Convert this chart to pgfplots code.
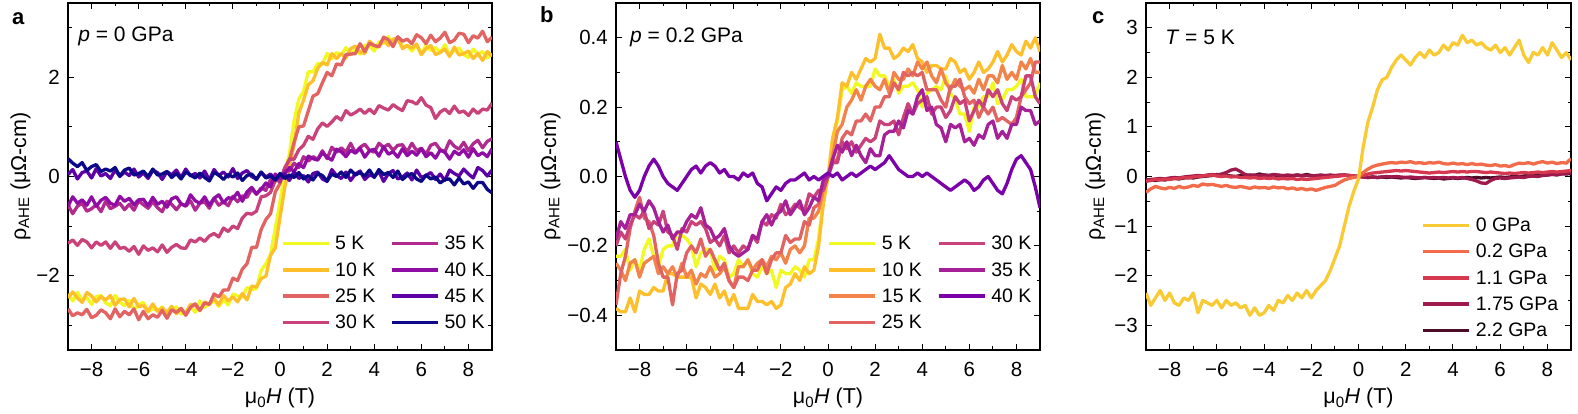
\documentclass[border=0pt]{standalone}
\usepackage{fontspec}
\setmainfont{Liberation Sans}
\usepackage{pgfplots}
\usepackage{pgfplotstable}
\pgfplotsset{compat=1.18}

% plasma-like colours, panels a and b
\definecolor{k5}{HTML}{F0F921}
\definecolor{k10}{HTML}{FDBF2C}
\definecolor{k15}{HTML}{F2844B}
\definecolor{k25}{HTML}{E16462}
\definecolor{k30}{HTML}{C9437A}
\definecolor{k35}{HTML}{B12A90}
\definecolor{k35b}{HTML}{A62098}
\definecolor{k40}{HTML}{8F0DA4}
\definecolor{k40b}{HTML}{7A02A8}
\definecolor{k45}{HTML}{5D01A6}
\definecolor{k50}{HTML}{0D0887}
% panel c
\definecolor{g0}{HTML}{F8CB35}
\definecolor{g02}{HTML}{F26B4A}
\definecolor{g11}{HTML}{D6394F}
\definecolor{g175}{HTML}{9E1A4C}
\definecolor{g22}{HTML}{4A0C27}

\newcommand\legfont{\fontsize{19.5}{22}\selectfont}
\newcommand\labfont{\fontsize{21.5}{24}\selectfont}

% p = 0 GPa, temperature series
\pgfplotstableread{
H a5 a10 a25 a30 a35 a40 a45 a50
-9.0 -2.37 -2.45 -2.67 -1.35 -0.57 -0.60 0.04 0.36
-8.8 -2.51 -2.33 -2.81 -1.28 -0.75 -0.41 0.14 0.27
-8.6 -2.34 -2.45 -2.75 -1.39 -0.60 -0.54 -0.05 0.20
-8.4 -2.49 -2.54 -2.79 -1.27 -0.54 -0.47 0.08 0.28
-8.2 -2.44 -2.34 -2.68 -1.32 -0.70 -0.58 0.11 0.12
-8.0 -2.58 -2.41 -2.85 -1.44 -0.65 -0.41 -0.03 0.20
-7.8 -2.42 -2.53 -2.80 -1.32 -0.57 -0.60 0.16 0.24
-7.6 -2.40 -2.42 -2.69 -1.39 -0.71 -0.48 0.01 0.10
-7.4 -2.55 -2.49 -2.75 -1.32 -0.50 -0.42 0.06 0.15
-7.2 -2.61 -2.40 -2.87 -1.45 -0.65 -0.54 -0.04 0.11
-7.0 -2.40 -2.60 -2.67 -1.32 -0.60 -0.58 0.13 0.18
-6.8 -2.53 -2.48 -2.83 -1.45 -0.54 -0.40 0.00 0.01
-6.6 -2.61 -2.47 -2.72 -1.43 -0.67 -0.50 0.09 0.13
-6.4 -2.50 -2.63 -2.79 -1.51 -0.56 -0.44 0.02 0.17
-6.2 -2.69 -2.46 -2.67 -1.41 -0.68 -0.57 0.15 0.03
-6.0 -2.58 -2.63 -2.89 -1.57 -0.49 -0.47 -0.01 0.06
-5.8 -2.54 -2.60 -2.72 -1.40 -0.57 -0.46 0.07 0.11
-5.6 -2.73 -2.72 -2.87 -1.49 -0.64 -0.59 -0.04 0.00
-5.4 -2.66 -2.57 -2.79 -1.44 -0.51 -0.42 0.12 0.15
-5.2 -2.71 -2.72 -2.84 -1.52 -0.63 -0.56 0.08 0.03
-5.0 -2.63 -2.65 -2.70 -1.38 -0.71 -0.50 -0.06 0.05
-4.8 -2.85 -2.74 -2.86 -1.53 -0.50 -0.62 0.10 0.10
-4.6 -2.70 -2.62 -2.69 -1.43 -0.56 -0.45 0.03 -0.02
-4.4 -2.63 -2.77 -2.74 -1.37 -0.67 -0.41 0.13 0.06
-4.2 -2.78 -2.67 -2.66 -1.44 -0.55 -0.55 -0.02 -0.05
-4.0 -2.72 -2.76 -2.80 -1.45 -0.60 -0.59 0.15 0.09
-3.8 -2.62 -2.58 -2.64 -1.28 -0.49 -0.37 0.01 0.03
-3.6 -2.74 -2.60 -2.57 -1.32 -0.68 -0.49 0.06 -0.03
-3.4 -2.51 -2.71 -2.70 -1.24 -0.54 -0.54 -0.03 0.07
-3.2 -2.64 -2.53 -2.55 -1.31 -0.51 -0.41 0.11 -0.02
-3.0 -2.58 -2.58 -2.58 -1.20 -0.64 -0.58 -0.07 -0.09
-2.8 -2.50 -2.46 -2.37 -1.15 -0.44 -0.44 0.14 0.08
-2.6 -2.62 -2.59 -2.43 -1.22 -0.58 -0.37 0.02 0.03
-2.4 -2.49 -2.40 -2.29 -1.04 -0.51 -0.53 0.09 -0.06
-2.2 -2.59 -2.51 -2.29 -1.11 -0.59 -0.43 -0.01 0.04
-2.0 -2.37 -2.43 -2.05 -1.00 -0.40 -0.44 0.16 -0.01
-1.8 -2.41 -2.53 -2.10 -1.05 -0.51 -0.32 -0.04 0.07
-1.6 -2.43 -2.36 -1.87 -0.84 -0.39 -0.50 0.07 -0.08
-1.4 -2.24 -2.49 -1.76 -0.74 -0.42 -0.31 0.12 0.02
-1.2 -2.28 -2.21 -1.43 -0.76 -0.25 -0.22 0.00 0.05
-1.0 -2.26 -2.23 -1.43 -0.70 -0.36 -0.35 -0.05 -0.06
-0.8 -1.90 -2.06 -1.07 -0.41 -0.23 -0.26 0.08 0.09
-0.6 -1.76 -2.01 -0.87 -0.39 -0.28 -0.13 -0.01 -0.03
-0.4 -1.57 -1.59 -0.75 -0.32 -0.06 -0.21 0.05 0.01
-0.2 -1.05 -1.44 -0.31 -0.08 -0.04 0.05 -0.07 -0.07
0.0 -0.51 -0.83 -0.14 -0.08 -0.11 -0.04 0.03 0.06
0.2 0.09 -0.23 0.18 0.16 0.12 0.06 0.05 -0.04
0.4 0.45 0.20 0.33 0.35 0.11 0.18 -0.08 0.03
0.6 1.13 0.65 0.69 0.35 0.27 0.10 0.10 -0.02
0.8 1.56 1.28 1.00 0.54 0.18 0.26 -0.04 0.08
1.0 1.72 1.54 1.02 0.63 0.40 0.18 0.02 -0.05
1.2 2.11 1.85 1.32 0.81 0.31 0.41 -0.11 0.02
1.4 2.11 1.93 1.62 0.75 0.40 0.36 0.06 -0.07
1.6 2.28 2.18 1.67 0.96 0.35 0.33 0.09 0.06
1.8 2.26 2.30 1.89 1.08 0.52 0.48 -0.05 0.02
2.0 2.48 2.25 2.10 1.01 0.36 0.39 -0.10 -0.09
2.2 2.38 2.48 2.03 1.10 0.59 0.33 0.14 0.05
2.4 2.50 2.38 2.27 1.21 0.49 0.55 0.02 0.00
2.6 2.45 2.48 2.25 1.14 0.58 0.50 -0.04 0.09
2.8 2.60 2.39 2.46 1.33 0.49 0.40 0.09 -0.02
3.0 2.46 2.58 2.47 1.24 0.67 0.53 -0.08 0.13
3.2 2.56 2.63 2.48 1.29 0.48 0.47 0.05 0.03
3.4 2.47 2.51 2.68 1.36 0.59 0.57 0.11 0.08
3.6 2.65 2.48 2.52 1.27 0.65 0.39 -0.06 0.01
3.8 2.64 2.73 2.69 1.36 0.53 0.52 0.03 0.13
4.0 2.53 2.64 2.64 1.27 0.49 0.55 0.00 -0.02
4.2 2.72 2.61 2.62 1.43 0.67 0.41 0.10 0.14
4.4 2.68 2.77 2.81 1.38 0.59 0.60 -0.10 0.04
4.6 2.82 2.64 2.76 1.34 0.65 0.45 0.06 0.08
4.8 2.67 2.77 2.62 1.45 0.53 0.50 0.12 -0.02
5.0 2.80 2.79 2.82 1.38 0.63 0.39 -0.05 0.11
5.2 2.62 2.58 2.73 1.33 0.64 0.56 -0.01 -0.06
5.4 2.64 2.64 2.77 1.53 0.50 0.42 0.07 0.02
5.6 2.53 2.59 2.68 1.51 0.67 0.51 -0.07 0.06
5.8 2.65 2.67 2.86 1.46 0.52 0.43 0.13 -0.05
6.0 2.46 2.46 2.80 1.59 0.57 0.56 -0.02 -0.10
6.2 2.66 2.58 2.68 1.44 0.45 0.40 0.02 0.03
6.4 2.54 2.64 2.85 1.39 0.63 0.48 0.08 -0.05
6.6 2.60 2.46 2.72 1.17 0.67 0.37 -0.06 -0.01
6.8 2.50 2.50 2.79 1.30 0.54 0.53 0.05 -0.13
7.0 2.66 2.57 2.91 1.36 0.50 0.49 -0.08 -0.06
7.2 2.45 2.42 2.70 1.27 0.72 0.35 0.13 -0.05
7.4 2.55 2.61 2.75 1.42 0.61 0.51 0.06 -0.17
7.6 2.59 2.45 2.89 1.29 0.55 0.44 0.01 -0.03
7.8 2.46 2.48 2.87 1.32 0.69 0.54 0.15 -0.15
8.0 2.40 2.53 2.70 1.23 0.52 0.39 0.05 -0.11
8.2 2.57 2.38 2.84 1.36 0.66 0.56 -0.03 -0.24
8.4 2.47 2.48 2.79 1.27 0.73 0.42 0.18 -0.12
8.6 2.52 2.34 2.93 1.36 0.58 0.48 0.12 -0.12
8.8 2.39 2.52 2.72 1.34 0.71 0.40 0.01 -0.26
9.0 2.48 2.43 2.81 1.48 0.76 0.56 0.13 -0.33
}\tabA

% p = 0.2 GPa, temperature series
\pgfplotstableread{
H b5 b10 b15 b25 b30 b35 b40
-9.0 -0.23 -0.38 -0.25 -0.37 -0.20 -0.18 0.10
-8.8 -0.23 -0.39 -0.27 -0.28 -0.16 -0.13 0.05
-8.6 -0.21 -0.39 -0.30 -0.23 -0.18 -0.15 0.00
-8.4 -0.27 -0.35 -0.25 -0.15 -0.14 -0.11 -0.04
-8.2 -0.24 -0.39 -0.24 -0.10 -0.11 -0.11 -0.06
-8.0 -0.27 -0.33 -0.29 -0.06 -0.12 -0.08 -0.04
-7.8 -0.21 -0.34 -0.25 -0.12 -0.10 -0.10 0.00
-7.6 -0.18 -0.34 -0.24 -0.13 -0.15 -0.07 0.03
-7.4 -0.23 -0.32 -0.23 -0.17 -0.13 -0.09 0.05
-7.2 -0.26 -0.33 -0.28 -0.25 -0.14 -0.13 0.03
-7.0 -0.21 -0.33 -0.26 -0.29 -0.10 -0.16 0.00
-6.8 -0.20 -0.28 -0.28 -0.29 -0.16 -0.14 -0.02
-6.6 -0.20 -0.28 -0.26 -0.37 -0.17 -0.18 -0.03
-6.4 -0.16 -0.29 -0.29 -0.28 -0.21 -0.16 -0.04
-6.2 -0.17 -0.29 -0.25 -0.27 -0.15 -0.16 -0.02
-6.0 -0.18 -0.29 -0.29 -0.22 -0.16 -0.13 0.00
-5.8 -0.20 -0.29 -0.27 -0.20 -0.13 -0.11 0.02
-5.6 -0.26 -0.35 -0.31 -0.22 -0.14 -0.12 0.03
-5.4 -0.22 -0.31 -0.28 -0.18 -0.13 -0.09 0.01
-5.2 -0.21 -0.32 -0.29 -0.23 -0.15 -0.14 0.03
-5.0 -0.21 -0.34 -0.26 -0.21 -0.19 -0.15 0.04
-4.8 -0.27 -0.31 -0.29 -0.24 -0.18 -0.18 0.03
-4.6 -0.23 -0.35 -0.28 -0.27 -0.20 -0.17 0.01
-4.4 -0.24 -0.33 -0.26 -0.25 -0.17 -0.15 0.02
-4.2 -0.29 -0.37 -0.30 -0.30 -0.22 -0.20 0.00
-4.0 -0.28 -0.34 -0.32 -0.32 -0.20 -0.22 0.00
-3.8 -0.24 -0.38 -0.26 -0.29 -0.22 -0.23 -0.01
-3.6 -0.26 -0.38 -0.26 -0.29 -0.20 -0.22 0.01
-3.4 -0.24 -0.38 -0.24 -0.30 -0.21 -0.21 0.00
-3.2 -0.28 -0.34 -0.27 -0.27 -0.17 -0.17 0.01
-3.0 -0.29 -0.36 -0.25 -0.27 -0.19 -0.18 -0.02
-2.8 -0.26 -0.36 -0.24 -0.24 -0.13 -0.13 -0.03
-2.6 -0.28 -0.37 -0.26 -0.28 -0.14 -0.11 -0.07
-2.4 -0.27 -0.36 -0.23 -0.24 -0.11 -0.14 -0.05
-2.2 -0.32 -0.38 -0.24 -0.22 -0.12 -0.11 -0.03
-2.0 -0.27 -0.37 -0.22 -0.22 -0.08 -0.10 -0.04
-1.8 -0.28 -0.32 -0.25 -0.17 -0.11 -0.07 -0.02
-1.6 -0.28 -0.31 -0.21 -0.19 -0.10 -0.11 -0.01
-1.4 -0.26 -0.28 -0.20 -0.18 -0.08 -0.09 -0.01
-1.2 -0.27 -0.30 -0.22 -0.18 -0.09 -0.07 0.00
-1.0 -0.29 -0.26 -0.20 -0.13 -0.10 -0.11 0.01
-0.8 -0.24 -0.28 -0.12 -0.14 -0.05 -0.09 -0.01
-0.6 -0.24 -0.27 -0.12 -0.09 -0.06 -0.06 0.00
-0.4 -0.18 -0.20 -0.10 -0.08 -0.04 -0.07 -0.01
-0.2 -0.07 -0.08 -0.04 -0.02 -0.04 -0.01 0.00
0.0 0.00 0.00 0.00 0.00 0.00 0.00 0.01
0.2 0.11 0.11 0.06 0.04 0.04 0.05 0.00
0.4 0.16 0.17 0.13 0.05 0.04 0.09 0.01
0.6 0.25 0.27 0.15 0.11 0.10 0.07 -0.01
0.8 0.26 0.26 0.20 0.13 0.08 0.10 0.00
1.0 0.24 0.30 0.22 0.12 0.10 0.06 0.01
1.2 0.27 0.28 0.25 0.16 0.07 0.09 0.00
1.4 0.26 0.31 0.22 0.16 0.09 0.06 0.01
1.6 0.26 0.34 0.26 0.18 0.11 0.04 0.02
1.8 0.26 0.33 0.28 0.16 0.10 0.08 0.03
2.0 0.31 0.34 0.26 0.20 0.11 0.06 0.02
2.2 0.29 0.41 0.25 0.20 0.16 0.06 0.03
2.4 0.29 0.37 0.28 0.23 0.15 0.12 0.04
2.6 0.26 0.37 0.24 0.23 0.15 0.13 0.06
2.8 0.28 0.34 0.30 0.27 0.16 0.13 0.04
3.0 0.24 0.35 0.28 0.25 0.12 0.16 0.02
3.2 0.26 0.37 0.28 0.30 0.17 0.14 0.01
3.4 0.26 0.36 0.31 0.29 0.21 0.19 0.00
3.6 0.27 0.38 0.29 0.30 0.18 0.18 0.00
3.8 0.25 0.34 0.33 0.29 0.21 0.23 0.01
4.0 0.20 0.33 0.31 0.30 0.22 0.25 0.00
4.2 0.24 0.30 0.33 0.25 0.23 0.19 0.01
4.4 0.25 0.32 0.29 0.25 0.18 0.20 0.00
4.6 0.26 0.32 0.27 0.25 0.20 0.15 -0.01
4.8 0.25 0.31 0.31 0.22 0.20 0.14 -0.02
5.0 0.29 0.31 0.27 0.20 0.17 0.10 -0.03
5.2 0.24 0.34 0.25 0.26 0.19 0.15 -0.04
5.4 0.22 0.33 0.28 0.26 0.23 0.14 -0.03
5.6 0.18 0.30 0.26 0.28 0.21 0.15 -0.02
5.8 0.18 0.31 0.25 0.23 0.22 0.10 -0.01
6.0 0.13 0.28 0.26 0.21 0.16 0.11 -0.02
6.2 0.20 0.30 0.24 0.22 0.19 0.09 -0.04
6.4 0.20 0.33 0.28 0.17 0.22 0.12 -0.03
6.6 0.23 0.30 0.25 0.20 0.20 0.11 -0.01
6.8 0.23 0.31 0.29 0.18 0.25 0.15 0.00
7.0 0.27 0.33 0.29 0.20 0.23 0.16 -0.02
7.2 0.21 0.36 0.27 0.16 0.25 0.11 -0.04
7.4 0.22 0.33 0.32 0.17 0.21 0.13 -0.05
7.6 0.25 0.35 0.28 0.16 0.19 0.11 -0.02
7.8 0.25 0.38 0.30 0.15 0.23 0.15 0.02
8.0 0.26 0.36 0.28 0.17 0.22 0.15 0.05
8.2 0.28 0.35 0.33 0.23 0.23 0.20 0.06
8.4 0.23 0.39 0.31 0.25 0.29 0.19 0.04
8.6 0.23 0.37 0.34 0.27 0.29 0.19 0.02
8.8 0.23 0.40 0.30 0.33 0.23 0.15 -0.03
9.0 0.27 0.36 0.30 0.33 0.21 0.16 -0.09
}\tabB

% T = 5 K, pressure series
\pgfplotstableread{
H c0 c02 c11 c175 c22
-9.0 -2.35 -0.32 -0.10 -0.07 -0.08
-8.8 -2.60 -0.25 -0.08 -0.06 -0.07
-8.6 -2.45 -0.20 -0.06 -0.05 -0.08
-8.4 -2.30 -0.23 -0.07 -0.04 -0.06
-8.2 -2.50 -0.25 -0.05 -0.05 -0.07
-8.0 -2.35 -0.22 -0.06 -0.03 -0.05
-7.8 -2.55 -0.24 -0.04 -0.02 -0.04
-7.6 -2.60 -0.20 -0.04 -0.03 -0.05
-7.4 -2.45 -0.23 -0.02 -0.01 -0.03
-7.2 -2.50 -0.21 -0.03 0.00 -0.02
-7.0 -2.35 -0.18 -0.01 0.01 -0.03
-6.8 -2.75 -0.20 0.00 0.02 -0.01
-6.6 -2.50 -0.15 0.01 0.01 0.00
-6.4 -2.55 -0.17 0.02 0.03 0.01
-6.2 -2.60 -0.16 0.03 0.04 0.02
-6.0 -2.50 -0.18 0.01 0.03 0.04
-5.8 -2.65 -0.20 0.00 0.05 0.03
-5.6 -2.50 -0.18 0.01 0.08 0.02
-5.4 -2.60 -0.21 -0.01 0.13 0.01
-5.2 -2.55 -0.22 0.00 0.15 0.00
-5.0 -2.65 -0.20 -0.02 0.10 0.02
-4.8 -2.60 -0.22 -0.02 0.04 0.01
-4.6 -2.80 -0.24 -0.03 0.02 0.03
-4.4 -2.65 -0.21 -0.02 0.03 0.02
-4.2 -2.80 -0.23 -0.04 0.02 0.05
-4.0 -2.75 -0.22 -0.03 0.03 0.03
-3.8 -2.60 -0.24 -0.04 0.02 0.02
-3.6 -2.70 -0.21 -0.03 0.04 0.03
-3.4 -2.50 -0.23 -0.05 0.03 0.02
-3.2 -2.55 -0.22 -0.04 0.02 0.01
-3.0 -2.40 -0.25 -0.05 0.03 0.02
-2.8 -2.50 -0.23 -0.04 0.02 0.01
-2.6 -2.35 -0.26 -0.06 0.03 0.03
-2.4 -2.45 -0.24 -0.05 0.01 0.02
-2.2 -2.30 -0.27 -0.06 0.02 0.04
-2.0 -2.45 -0.25 -0.05 0.01 0.02
-1.8 -2.30 -0.28 -0.04 0.02 0.01
-1.6 -2.20 -0.25 -0.03 0.03 0.02
-1.4 -2.10 -0.22 -0.02 0.02 0.01
-1.2 -1.90 -0.20 -0.01 0.03 0.02
-1.0 -1.65 -0.18 0.00 0.02 0.01
-0.8 -1.40 -0.12 0.01 0.03 0.02
-0.6 -1.00 -0.07 0.02 0.03 0.03
-0.4 -0.60 -0.04 0.02 0.02 0.02
-0.2 -0.30 -0.02 0.01 0.01 0.01
0.0 -0.05 0.00 0.00 0.00 0.00
0.2 0.60 0.08 0.02 -0.01 -0.01
0.4 1.10 0.15 0.05 -0.02 -0.02
0.6 1.40 0.20 0.07 -0.01 -0.01
0.8 1.75 0.23 0.08 -0.02 -0.02
1.0 1.95 0.25 0.09 -0.01 -0.01
1.2 2.00 0.27 0.10 0.00 -0.02
1.4 2.20 0.28 0.11 -0.01 -0.01
1.6 2.35 0.27 0.12 0.00 -0.02
1.8 2.45 0.29 0.11 -0.01 -0.03
2.0 2.35 0.28 0.12 -0.02 -0.02
2.2 2.25 0.30 0.11 -0.01 -0.03
2.4 2.40 0.27 0.10 -0.02 -0.04
2.6 2.50 0.28 0.09 -0.03 -0.03
2.8 2.40 0.26 0.08 -0.02 -0.02
3.0 2.55 0.28 0.07 -0.03 -0.03
3.2 2.45 0.27 0.08 -0.02 -0.04
3.4 2.50 0.29 0.09 -0.03 -0.03
3.6 2.65 0.26 0.08 -0.02 -0.05
3.8 2.55 0.25 0.09 -0.03 -0.04
4.0 2.70 0.27 0.10 -0.02 -0.03
4.2 2.65 0.25 0.09 -0.03 -0.04
4.4 2.85 0.26 0.10 -0.02 -0.03
4.6 2.70 0.24 0.09 -0.04 -0.02
4.8 2.75 0.26 0.10 -0.06 -0.03
5.0 2.65 0.24 0.10 -0.09 -0.02
5.2 2.70 0.25 0.09 -0.13 -0.03
5.4 2.60 0.23 0.08 -0.14 -0.02
5.6 2.55 0.22 0.09 -0.08 -0.03
5.8 2.65 0.24 0.08 -0.04 -0.02
6.0 2.50 0.21 0.07 -0.03 -0.01
6.2 2.60 0.22 0.06 -0.04 -0.02
6.4 2.45 0.20 0.07 -0.03 -0.01
6.6 2.60 0.24 0.06 -0.02 0.00
6.8 2.75 0.27 0.07 -0.01 -0.01
7.0 2.45 0.26 0.08 -0.02 0.01
7.2 2.30 0.28 0.07 0.00 0.02
7.4 2.50 0.25 0.08 0.01 0.01
7.6 2.45 0.28 0.09 0.00 0.03
7.8 2.60 0.30 0.08 0.02 0.04
8.0 2.45 0.27 0.09 0.03 0.03
8.2 2.70 0.29 0.10 0.04 0.05
8.4 2.55 0.26 0.09 0.03 0.04
8.6 2.40 0.28 0.10 0.05 0.06
8.8 2.50 0.27 0.11 0.06 0.05
9.0 2.35 0.36 0.12 0.08 0.06
}\tabC

\tikzset{
  note/.style={anchor=north west, inner sep=0pt, font=\fontsize{21}{24}\selectfont},
  letter/.style={anchor=base west, inner sep=0pt, font=\bfseries\fontsize{22}{24}\selectfont},
}
\pgfplotsset{
  panel/.style={
    scale only axis, width=424pt, height=347pt,
    anchor=south west,
    xmin=-9, xmax=9,
    xtick={-8,-6,-4,-2,0,2,4,6,8},
    xticklabels={−8,−6,−4,−2,0,2,4,6,8},
    minor xtick={-9,-7,-5,-3,-1,1,3,5,7,9},
    tick align=inside,
    major tick length=6pt, minor tick length=3.5pt,
    every tick/.style={black, line width=1pt},
    axis line style={black, line width=1.2pt},
    tick label style={font=\fontsize{20.5}{22}\selectfont},
    xticklabel style={inner sep=0pt, yshift=-12pt},
    yticklabel style={inner sep=0pt, xshift=-8pt},
    xlabel={\labfont μ\textsubscript{0}\textit{H} (T)},
    ylabel={\labfont ρ\textsubscript{AHE} (μΩ-cm)},
    xlabel style={at={(axis description cs:0.5,-0.11)}, anchor=north, inner sep=0pt},
    every axis plot/.append style={line width=3.3pt, line join=round},
    legend style={draw=none, fill=none, anchor=south east, inner sep=0pt,
      row sep=7pt,
      nodes={inner sep=2pt},
      /tikz/every odd column/.append style={column sep=3pt},
      /tikz/every even column/.append style={column sep=13pt}},
    legend cell align=left,
    legend image code/.code={\draw[#1] (0pt,0pt) -- (46pt,0pt);},
  },
}

\begin{document}
\begin{tikzpicture}

% ---- a ----
\begin{axis}[panel, at={(68pt,64pt)},
  ymin=-3.5, ymax=3.5,
  ytick={-2,0,2}, yticklabels={−2,0,2},
  minor ytick={-3,-1,1,3},
  ylabel style={at={(axis description cs:-0.088,0.5)}, anchor=south, inner sep=0pt},
  legend columns=2,
  legend style={at={(rel axis cs:0.988,0.052)}}]
\addplot[k5, forget plot] table[x=H, y=a5] {\tabA};
\addplot[k10, forget plot] table[x=H, y=a10] {\tabA};
\addplot[k25, forget plot] table[x=H, y=a25] {\tabA};
\addplot[k30, forget plot] table[x=H, y=a30] {\tabA};
\addplot[k35, forget plot] table[x=H, y=a35] {\tabA};
\addplot[k40, forget plot] table[x=H, y=a40] {\tabA};
\addplot[k45, forget plot] table[x=H, y=a45] {\tabA};
\addplot[k50, forget plot] table[x=H, y=a50] {\tabA};
\addlegendimage{k5, line width=3.3pt}\addlegendentry{\legfont 5 K}
\addlegendimage{k35, line width=3.3pt}\addlegendentry{\legfont 35 K}
\addlegendimage{k10, line width=3.3pt}\addlegendentry{\legfont 10 K}
\addlegendimage{k40, line width=3.3pt}\addlegendentry{\legfont 40 K}
\addlegendimage{k25, line width=3.3pt}\addlegendentry{\legfont 25 K}
\addlegendimage{k45, line width=3.3pt}\addlegendentry{\legfont 45 K}
\addlegendimage{k30, line width=3.3pt}\addlegendentry{\legfont 30 K}
\addlegendimage{k50, line width=3.3pt}\addlegendentry{\legfont 50 K}
\node[note] at (rel axis cs:0.024,0.931) {\textit{p} = 0 GPa};
\end{axis}

% ---- b ----
\begin{axis}[panel, at={(616pt,64pt)},
  ymin=-0.5, ymax=0.5,
  ytick={-0.4,-0.2,0,0.2,0.4}, yticklabels={−0.4,−0.2,0.0,0.2,0.4},
  minor ytick={-0.3,-0.1,0.1,0.3},
  ylabel style={at={(axis description cs:-0.130,0.5)}, anchor=south, inner sep=0pt},
  legend columns=2,
  legend style={at={(rel axis cs:0.985,0.052)}}]
\addplot[k5, forget plot] table[x=H, y=b5] {\tabB};
\addplot[k10, forget plot] table[x=H, y=b10] {\tabB};
\addplot[k15, forget plot] table[x=H, y=b15] {\tabB};
\addplot[k25, forget plot] table[x=H, y=b25] {\tabB};
\addplot[k30, forget plot] table[x=H, y=b30] {\tabB};
\addplot[k35b, forget plot] table[x=H, y=b35] {\tabB};
\addplot[k40b, forget plot] table[x=H, y=b40] {\tabB};
\addlegendimage{k5, line width=3.3pt}\addlegendentry{\legfont 5 K}
\addlegendimage{k30, line width=3.3pt}\addlegendentry{\legfont 30 K}
\addlegendimage{k10, line width=3.3pt}\addlegendentry{\legfont 10 K}
\addlegendimage{k35b, line width=3.3pt}\addlegendentry{\legfont 35 K}
\addlegendimage{k15, line width=3.3pt}\addlegendentry{\legfont 15 K}
\addlegendimage{k40b, line width=3.3pt}\addlegendentry{\legfont 40 K}
\addlegendimage{k25, line width=3.3pt}\addlegendentry{\legfont 25 K}
\node[note] at (rel axis cs:0.033,0.928) {\textit{p} = 0.2 GPa};
\end{axis}

% ---- c ----
\begin{axis}[panel, at={(1146pt,64pt)}, width=425pt,
  ymin=-3.5, ymax=3.5,
  ytick={-3,-2,-1,0,1,2,3}, yticklabels={−3,−2,−1,0,1,2,3},
  minor ytick={-2.5,-1.5,-0.5,0.5,1.5,2.5},
  ylabel style={at={(axis description cs:-0.095,0.5)}, anchor=south, inner sep=0pt},
  legend style={at={(rel axis cs:0.975,0.029)}}]
\addplot[g22, forget plot] table[x=H, y=c22] {\tabC};
\addplot[g175, forget plot] table[x=H, y=c175] {\tabC};
\addplot[g11, forget plot] table[x=H, y=c11] {\tabC};
\addplot[g02, forget plot] table[x=H, y=c02] {\tabC};
\addplot[g0, forget plot] table[x=H, y=c0] {\tabC};
\addlegendimage{g0, line width=3.3pt}\addlegendentry{\legfont 0 GPa}
\addlegendimage{g02, line width=3.3pt}\addlegendentry{\legfont 0.2 GPa}
\addlegendimage{g11, line width=3.3pt}\addlegendentry{\legfont 1.1 GPa}
\addlegendimage{g175, line width=3.3pt}\addlegendentry{\legfont 1.75 GPa}
\addlegendimage{g22, line width=3.3pt}\addlegendentry{\legfont 2.2 GPa}
\node[note] at (rel axis cs:0.045,0.922) {\textit{T} = 5 K};
\end{axis}

\node[letter] at (12pt,389pt) {a};
\node[letter] at (540pt,391pt) {b};
\node[letter] at (1092pt,390pt) {c};

\pgfresetboundingbox
\path[use as bounding box] (0pt,0pt) rectangle (1578pt,414pt);
\end{tikzpicture}
\end{document}
